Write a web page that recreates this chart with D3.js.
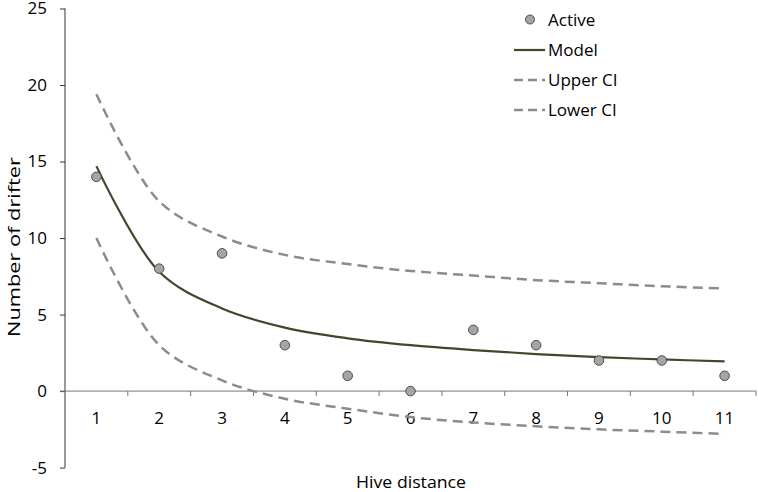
<!DOCTYPE html>
<html><head><meta charset="utf-8">
<script src="https://cdn.jsdelivr.net/npm/d3@7"></script>
<style>body{margin:0;background:#fff}svg{display:block}text{font-family:"Open Sans","Liberation Sans",sans-serif}</style>
</head><body><svg id="c" width="758" height="492"></svg>
<script>
const categories = [1,2,3,4,5,6,7,8,9,10,11];
const active = [14,8,9,3,1,0,4,3,2,2,1];
const model = [14.7,7.8,5.4,4.15,3.45,3.0,2.68,2.42,2.22,2.07,1.94];
const upperCI = [19.4,12.4,10.1,8.9,8.3,7.85,7.55,7.25,7.05,6.85,6.7];
const lowerCI = [10.0,3.0,0.7,-0.5,-1.15,-1.7,-2.05,-2.3,-2.5,-2.65,-2.8];
const yTicks = [-5,0,5,10,15,20,25];

const FS = 17;
const svg = d3.select("#c");
const x = d3.scaleBand().domain(categories).range([65,756]);
const y = d3.scaleLinear().domain([-5,25]).range([467.6,8.5]);
const cx = d => x(d)+x.bandwidth()/2;

// y axis
const ya = svg.append("g").attr("transform","translate(65,0)")
  .call(d3.axisLeft(y).tickValues(yTicks).tickFormat(d=>String(d)).tickSize(5).tickPadding(13));
ya.select(".domain").attr("stroke","#333").attr("d","M0,8.5V467.6");
ya.selectAll(".tick line").attr("stroke","#333");
ya.selectAll("text").attr("font-size",FS).attr("fill","#000");

// x axis at zero
const xa = svg.append("g").attr("transform",`translate(0,${y(0)})`)
  .call(d3.axisBottom(x).tickSize(0).tickPadding(21));
xa.select(".domain").attr("stroke","#777").attr("d","M65,0H756");
xa.selectAll("text").attr("font-size",FS).attr("fill","#000");
svg.append("g").selectAll("line").data(categories.map(c=>x(c)).concat([756]).slice(1))
  .join("line").attr("x1",d=>d).attr("x2",d=>d).attr("y1",y(0)).attr("y2",y(0)+5)
  .attr("stroke","#777");
svg.append("line").attr("x1",60).attr("x2",65).attr("y1",y(0)).attr("y2",y(0)).attr("stroke","#777");

const line = d3.line().x((d,i)=>cx(categories[i])).y(d=>y(d)).curve(d3.curveCatmullRom.alpha(0.5));
svg.append("path").attr("d",line(upperCI)).attr("fill","none").attr("stroke","#8c8c8c").attr("stroke-width",2.5).attr("stroke-dasharray","10,6");
svg.append("path").attr("d",line(lowerCI)).attr("fill","none").attr("stroke","#8c8c8c").attr("stroke-width",2.5).attr("stroke-dasharray","10,6");
svg.append("path").attr("d",line(model)).attr("fill","none").attr("stroke","#47442c").attr("stroke-width",2.2);

svg.append("g").selectAll("circle").data(active).join("circle")
  .attr("cx",(d,i)=>cx(categories[i])).attr("cy",d=>y(d)).attr("r",4.8)
  .attr("fill","#a5a5a5").attr("stroke","#404040").attr("stroke-width",0.9);

// legend
const lg = svg.append("g");
lg.append("circle").attr("cx",530).attr("cy",19.5).attr("r",4.5).attr("fill","#a5a5a5").attr("stroke","#404040").attr("stroke-width",0.9);
lg.append("line").attr("x1",514).attr("x2",545).attr("y1",50).attr("y2",50).attr("stroke","#47442c").attr("stroke-width",2.2);
[80,110].forEach(yy=>lg.append("line").attr("x1",514).attr("x2",545).attr("y1",yy).attr("y2",yy)
  .attr("stroke","#8c8c8c").attr("stroke-width",2.5).attr("stroke-dasharray","9,5"));
const names = ["Active","Model","Upper CI","Lower CI"];
lg.selectAll("text").data(names).join("text").attr("x",548).attr("y",(d,i)=>20+i*30)
  .attr("dy","0.35em").attr("font-size",FS).attr("fill","#000").text(d=>d);

svg.append("text").attr("x",411).attr("y",482).attr("dy","0.35em").attr("text-anchor","middle")
  .attr("font-size",FS).attr("textLength",110).attr("lengthAdjust","spacingAndGlyphs").text("Hive distance");
svg.append("text").attr("transform","translate(14,247) rotate(-90)").attr("dy","0.35em").attr("text-anchor","middle")
  .attr("font-size",FS).attr("textLength",180).attr("lengthAdjust","spacingAndGlyphs").text("Number of drifter");
</script></body></html>
